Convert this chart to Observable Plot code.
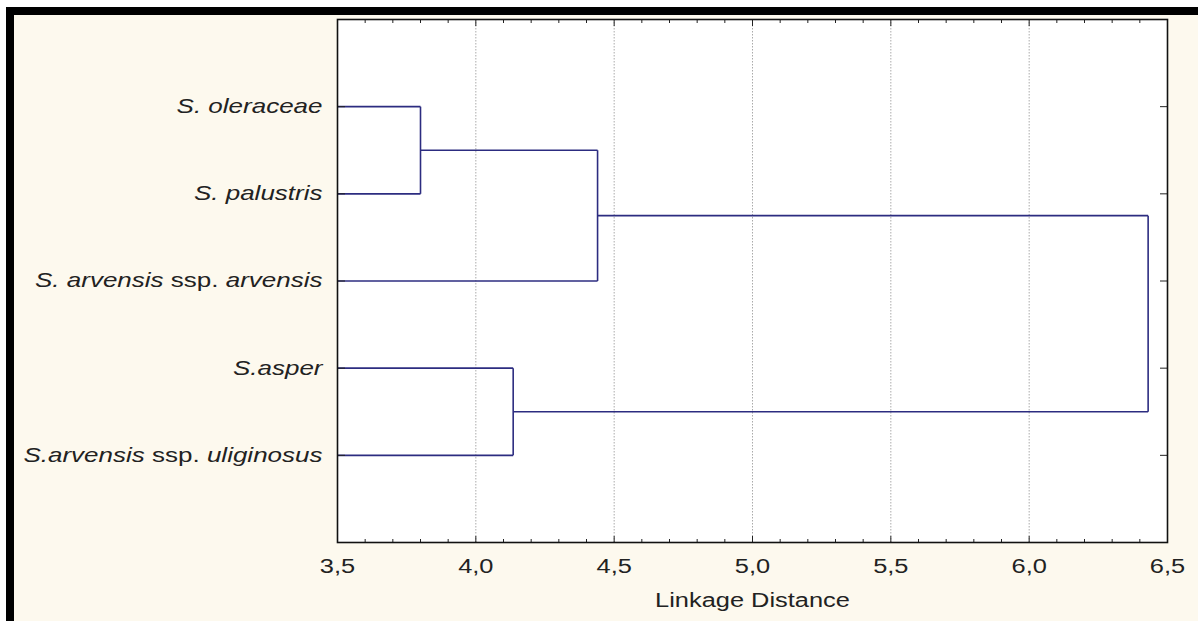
<!DOCTYPE html>
<html><head><meta charset="utf-8">
<script src="https://cdn.jsdelivr.net/npm/d3@7"></script>
<script src="https://cdn.jsdelivr.net/npm/@observablehq/plot@0.6"></script>
<style>
html,body{margin:0;padding:0;background:#fff;width:1198px;height:621px;overflow:hidden}
#bg{position:absolute;left:6px;top:7px;right:0;bottom:0;background:#fdf9ee;border-top:8px solid #000;border-left:8px solid #000;}
#chart{position:absolute;left:0;top:0}
</style></head><body><div id="bg"></div><div id="chart"></div>
<script>
// Leaves (top to bottom)
const leaves = ["S. oleraceae", "S. palustris", "S. arvensis ssp. arvensis", "S.asper", "S.arvensis ssp. uliginosus"];
// Merges (agglomeration steps)
const mergeName  = ["C1", "C2", "C3", "C4"];
const mergeLeft  = ["S. oleraceae", "C1", "S.asper", "C2"];
const mergeRight = ["S. palustris", "S. arvensis ssp. arvensis", "S.arvensis ssp. uliginosus", "C3"];
const mergeDist  = [3.80, 4.44, 4.135, 6.43];
// Axis
const xDomain = [3.5, 6.5];
const majorTicks = [3.5, 4.0, 4.5, 5.0, 5.5, 6.0, 6.5];
const majorLabels = ["3,5", "4,0", "4,5", "5,0", "5,5", "6,0", "6,5"];
const minorTicks = [3.6, 3.7, 3.8, 3.9, 4.1, 4.2, 4.3, 4.4, 4.6, 4.7, 4.8, 4.9, 5.1, 5.2, 5.3, 5.4, 5.6, 5.7, 5.8, 5.9, 6.1, 6.2, 6.3, 6.4];
const gridTicks = [4.0, 4.5, 5.0, 5.5, 6.0];
const xTitle = "Linkage Distance";

// Build dendrogram segments
const nodes = new Map(leaves.map((d, i) => [d, {x: xDomain[0], y: i + 1}]));
const segments = [];
mergeName.forEach((name, k) => {
  const a = nodes.get(mergeLeft[k]), b = nodes.get(mergeRight[k]), d = mergeDist[k];
  segments.push({x1: a.x, y1: a.y, x2: d, y2: a.y});
  segments.push({x1: b.x, y1: b.y, x2: d, y2: b.y});
  segments.push({x1: d, y1: a.y, x2: d, y2: b.y});
  nodes.set(name, {x: d, y: (a.y + b.y) / 2});
});
const leafIdx = leaves.map((d, i) => i + 1);

const chart = Plot.plot({
  width: 1198, height: 621,
  marginLeft: 337, marginRight: 31, marginTop: 19, marginBottom: 79,
  style: {background: "transparent", fontFamily: "'Liberation Sans', Arial, sans-serif", fontSize: "20px", color: "#222"},
  x: {domain: xDomain, axis: null},
  y: {domain: [0, 6], reverse: true, axis: null},
  marks: [
    Plot.frame({fill: "white", stroke: null}),
    Plot.gridX(gridTicks, {stroke: "#aaa", strokeOpacity: 1, strokeDasharray: "1.5,1.5"}),
    Plot.link(segments, {x1: "x1", y1: "y1", x2: "x2", y2: "y2", stroke: "#2c2c80", strokeWidth: 1.6}),
    Plot.axisX(minorTicks, {anchor: "bottom", tickSize: -3, tickFormat: () => "", label: null}),
    Plot.axisX(minorTicks, {anchor: "top", tickSize: -3, tickFormat: () => "", label: null}),
    Plot.axisX(majorTicks, {anchor: "top", tickSize: -6, tickFormat: () => "", label: null}),
    Plot.axisX(majorTicks, {anchor: "bottom", tickSize: -6, tickFormat: () => "", label: null}),
    Plot.axisX(majorTicks, {anchor: "bottom", tickSize: 0, tickPadding: 16, tickFormat: (d) => majorLabels[majorTicks.indexOf(d)], label: null, fontSize: 20}),
    Plot.axisY(leafIdx, {anchor: "right", tickSize: -8, tickFormat: () => "", label: null}),
    Plot.axisY(leafIdx, {anchor: "left", tickSize: -8, tickFormat: () => "", label: null}),
    Plot.text(leaves, {y: (d, i) => i + 1, text: d => d, frameAnchor: "left", textAnchor: "end", dx: -15, fill: "#222", fontSize: 20}),
    Plot.text([xTitle], {text: d => d, frameAnchor: "bottom", dy: 58, fill: "#222", fontSize: 20, lineAnchor: "middle"}),
    Plot.frame({stroke: "#111", strokeWidth: 1.6})
  ]
});
document.getElementById("chart").appendChild(chart);

// Post-process: mixed italics for taxon names, and horizontal widening of all text
chart.querySelectorAll("text").forEach(t => {
  const s = t.textContent;
  if (s === "") return;
  let sx = 1.27;
  if (leaves.includes(s)) {
    sx = 1.3;
    t.textContent = "";
    const toks = s.split(" ");
    toks.forEach((tok, j) => {
      const ts = document.createElementNS("http://www.w3.org/2000/svg", "tspan");
      ts.textContent = tok + (j < toks.length - 1 ? " " : "");
      if (tok !== "ssp.") ts.setAttribute("font-style", "italic");
      t.appendChild(ts);
    });
  }
  const tr = t.getAttribute("transform") || "";
  t.setAttribute("transform", `${tr} scale(${sx},1)`);
});
</script>
</body></html>
